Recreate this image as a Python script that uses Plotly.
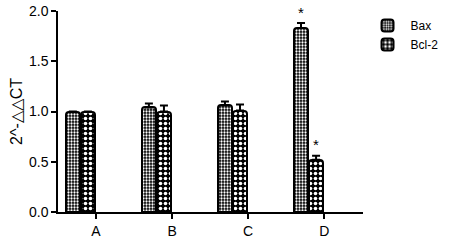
import plotly.graph_objects as go

categories = ["A", "B", "C", "D"]
bax = [1.00, 1.04, 1.06, 1.83]
bax_err = [0.0, 0.04, 0.04, 0.05]
bcl2 = [1.00, 1.00, 1.01, 0.52]
bcl2_err = [0.0, 0.06, 0.06, 0.04]
y_ticks = [0.0, 0.5, 1.0, 1.5, 2.0]
star_flags_bax = [False, False, False, True]
star_flags_bcl2 = [False, False, False, True]

BAR_W = 0.18
OFF_BAX = -0.395
OFF_BCL = -0.197

fig = go.Figure()
fig.add_trace(go.Bar(
    name="Bax", x=categories, y=bax, width=BAR_W, offset=OFF_BAX,
    marker=dict(color="white", line=dict(color="black", width=2), cornerradius=3,
                pattern=dict(shape=".", size=3, solidity=0.45, fgcolor="white",
                             bgcolor="black", fillmode="replace")),
    error_y=dict(type="data", array=bax_err, arrayminus=[0]*4, symmetric=False,
                 color="black", thickness=2, width=4),
))
fig.add_trace(go.Bar(
    name="Bcl-2", x=categories, y=bcl2, width=BAR_W, offset=OFF_BCL,
    marker=dict(color="white", line=dict(color="black", width=2), cornerradius=3,
                pattern=dict(shape=".", size=5, solidity=0.4, fgcolor="white",
                             bgcolor="black", fillmode="replace")),
    error_y=dict(type="data", array=bcl2_err, arrayminus=[0]*4, symmetric=False,
                 color="black", thickness=2, width=4),
))

for i, c in enumerate(categories):
    if star_flags_bax[i]:
        fig.add_annotation(x=i + OFF_BAX + BAR_W / 2, y=bax[i] + bax_err[i], text="*",
                           showarrow=False, yshift=11, font=dict(size=15, color="black"))
    if star_flags_bcl2[i]:
        fig.add_annotation(x=i + OFF_BCL + BAR_W / 2, y=bcl2[i] + bcl2_err[i], text="*",
                           showarrow=False, yshift=11, font=dict(size=15, color="black"))

fig.update_layout(
    width=455, height=241,
    margin=dict(l=58, r=92, t=11, b=29, autoexpand=False),
    paper_bgcolor="white", plot_bgcolor="white",
    font=dict(family="Arial, Liberation Sans, sans-serif", size=14, color="black"),
    showlegend=True,
    legend=dict(x=1.005, y=1.0, xanchor="left", yanchor="top",
                font=dict(size=12), itemwidth=36, tracegroupgap=6,
                bgcolor="rgba(0,0,0,0)"),
    bargap=0,
)
fig.update_xaxes(
    type="category", range=[-0.5, 3.51], showline=True, linecolor="black", linewidth=1.5,
    ticks="outside", ticklen=5, tickwidth=1.5, tickcolor="black", showgrid=False,
    zeroline=False, automargin=False, tickfont=dict(size=14),
)
fig.update_yaxes(
    range=[0, 2], tickvals=y_ticks, ticktext=[f"{v:.1f}" for v in y_ticks],
    showline=True, linecolor="black", linewidth=1.5, ticks="outside", ticklen=5,
    tickwidth=1.5, tickcolor="black", showgrid=False, zeroline=False, automargin=False,
    tickfont=dict(size=14), ticklabeloverflow="allow",
    title=dict(text="2^-△△CT", font=dict(size=16), standoff=2),
)

# remove the default 8px page margin so the figure fills the 455x241 window
fig.write_html("out.html", config={"displayModeBar": False},
               post_script="document.body.style.margin='0';")
